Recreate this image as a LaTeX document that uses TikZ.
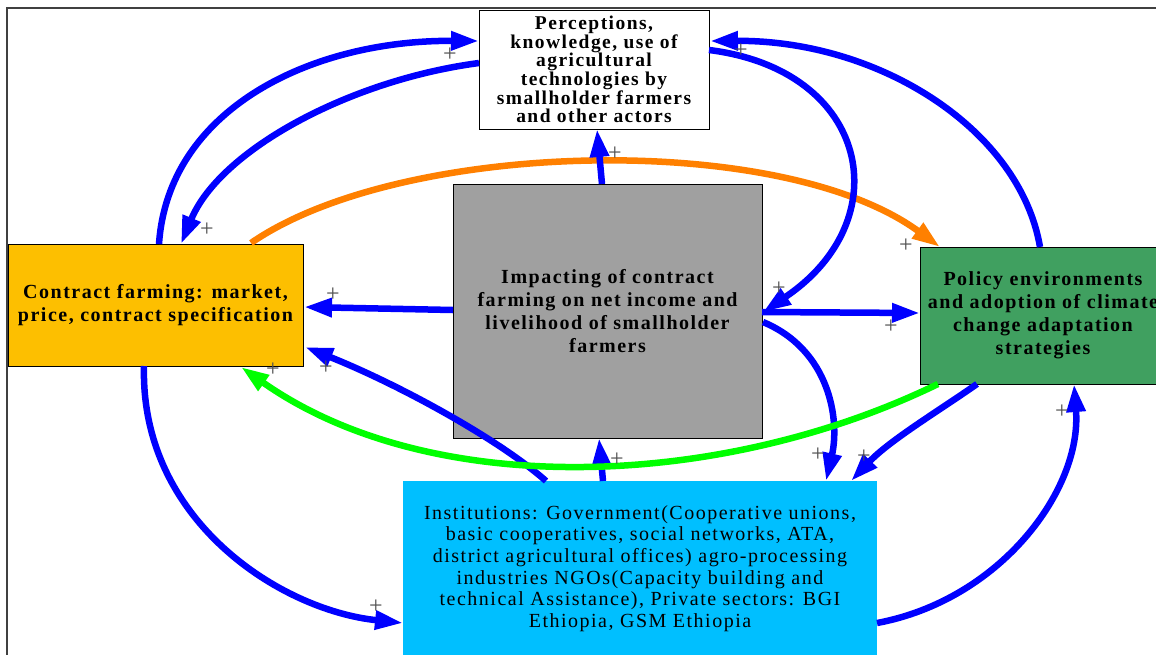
\documentclass[tikz,border=0pt]{standalone}
\usepackage{fontspec}
\setmainfont{Liberation Serif}
\newfontfamily\lsfont[LetterSpace=7.5]{Liberation Serif}
\usetikzlibrary{arrows.meta,calc}
\definecolor{cfill}{RGB}{253,191,0}
\definecolor{pfill}{RGB}{64,160,96}
\definecolor{gfill}{RGB}{160,160,160}
\definecolor{ifill}{RGB}{0,191,255}
\definecolor{pblue}{RGB}{0,0,255}
\definecolor{porange}{RGB}{255,128,0}
\definecolor{pgreen}{RGB}{0,255,0}
\definecolor{plusc}{RGB}{80,80,80}
\definecolor{framec}{RGB}{64,64,64}
\begin{document}
\begin{tikzpicture}[x=1pt,y=-1pt,
 box/.style={draw=black,line width=1pt,inner sep=0pt,outer sep=0pt,align=center},
 bt/.style={font=\lsfont\bfseries\fontsize{20}{23}\selectfont},
 rt/.style={font=\lsfont\fontsize{20}{21.7}\selectfont},
 link/.style={line width=6.5pt,-{Triangle[length=28pt,width=18pt]}},
 bluelink/.style={link,draw=pblue},
 pl/.style={text=plusc,font=\fontsize{24}{24}\selectfont,inner sep=0pt}]
\useasboundingbox (0,0) rectangle (1156,654);
\clip (0,0) rectangle (1156,654);
\fill[white] (0,0) rectangle (1156,654);
\draw[framec,line width=1.5pt] (7,8) rectangle (1190,690);

% nodes
\node[box,fill=white,minimum width=230pt,minimum height=119pt,
  font=\lsfont\bfseries\fontsize{19.5}{18.6}\selectfont] (perc) at (594,69.5)
  {Perceptions,\\knowledge, use of\\agricultural\\technologies by\\smallholder farmers\\and other actors};
\node[box,bt,fill=gfill,minimum width=309pt,minimum height=254pt] (grey) at (607.5,311)
  {Impacting of contract\\farming on net income and\\livelihood of smallholder\\farmers};
\node[box,bt,fill=cfill,minimum width=295pt,minimum height=122pt] (contract) at (155.5,305)
  {Contract farming: market,\\price, contract specification};
\node[box,bt,fill=pfill,minimum width=246pt,minimum height=137pt] (policy) at (1043,315.5)
  {Policy environments\\and adoption of climate\\change adaptation\\strategies};
\node[box,rt,draw=none,fill=ifill,minimum width=474pt,minimum height=175pt] (inst) at (640,568.5)
  {Institutions: Government(Cooperative unions,\\basic cooperatives, social networks, ATA,\\district agricultural offices) agro-processing\\industries NGOs(Capacity building and\\technical Assistance), Private sectors: BGI\\Ethiopia, GSM Ethiopia};

% orange
\draw[link,draw=porange] ($(contract.north west)+(243,-1)$) .. controls (400,140) and (780,130) .. ($(policy.north west)+(20,0)$);

% blue links
\draw[bluelink] ($(contract.north west)+(151,0)$) .. controls (168,110) and (310,40) .. ($(perc.north west)+(0,31)$);
\draw[bluelink] ($(perc.north west)+(0,53)$) .. controls (350,80) and (220,150) .. ($(contract.north west)+(173,0)$);
\draw[bluelink] ($(perc.north east)+(0,40)$) .. controls (870,70) and (900,220) .. ($(grey.north east)+(1,128)$);
\draw[bluelink] ($(policy.north west)+(120,0)$) .. controls (1020,130) and (880,40) .. ($(perc.north east)+(1,31)$);
\draw[bluelink] ($(grey.north west)+(149,0)$) -- ($(perc.south west)+(118,0)$);
\draw[bluelink] ($(grey.north west)+(0,126)$) -- ($(contract.north east)+(1,63)$);
\draw[bluelink] ($(grey.north east)+(0,128)$) -- ($(policy.north west)+(0,66)$);
\draw[bluelink] ($(grey.north east)+(1,138)$) .. controls (830,350) and (840,420) .. ($(inst.north west)+(423,0)$);
\draw[bluelink] ($(policy.south west)+(57,0)$) .. controls (940,410) and (890,440) .. ($(inst.north west)+(448,0)$);
\draw[bluelink] ($(inst.north east)+(0,142)$) .. controls (1000,600) and (1082,490) .. ($(policy.south west)+(154,0)$);
\draw[bluelink] ($(contract.south west)+(136,0)$) .. controls (140,520) and (280,610) .. ($(inst.north west)+(0,142)$);
\draw[bluelink] ($(inst.north west)+(143,0)$) .. controls (500,440) and (400,385) .. ($(contract.north east)+(2,103)$);
\draw[bluelink] ($(inst.north west)+(200,0)$) -- ($(grey.south west)+(146,0)$);

% green
\draw[link,draw=pgreen] ($(policy.south west)+(18,0)$) .. controls (720,490) and (430,500) .. ($(contract.south west)+(233,1)$);

% plus signs
\node[pl] (p1) at (450,55) {+};
\node[pl] (p2) at (207,230) {+};
\node[pl] (p3) at (906,246) {+};
\node[pl] (p4) at (741,51) {+};
\node[pl] (p5) at (615,154) {+};
\node[pl] (p6) at (779,289) {+};
\node[pl] (p7) at (333,295) {+};
\node[pl] (p8) at (891,327) {+};
\node[pl] (p9) at (326,368) {+};
\node[pl] (p10) at (273,370) {+};
\node[pl] (p11) at (617,460) {+};
\node[pl] (p12) at (818,455) {+};
\node[pl] (p13) at (864,457) {+};
\node[pl] (p14) at (1062,412) {+};
\node[pl] (p15) at (376,607) {+};
\end{tikzpicture}
\end{document}
